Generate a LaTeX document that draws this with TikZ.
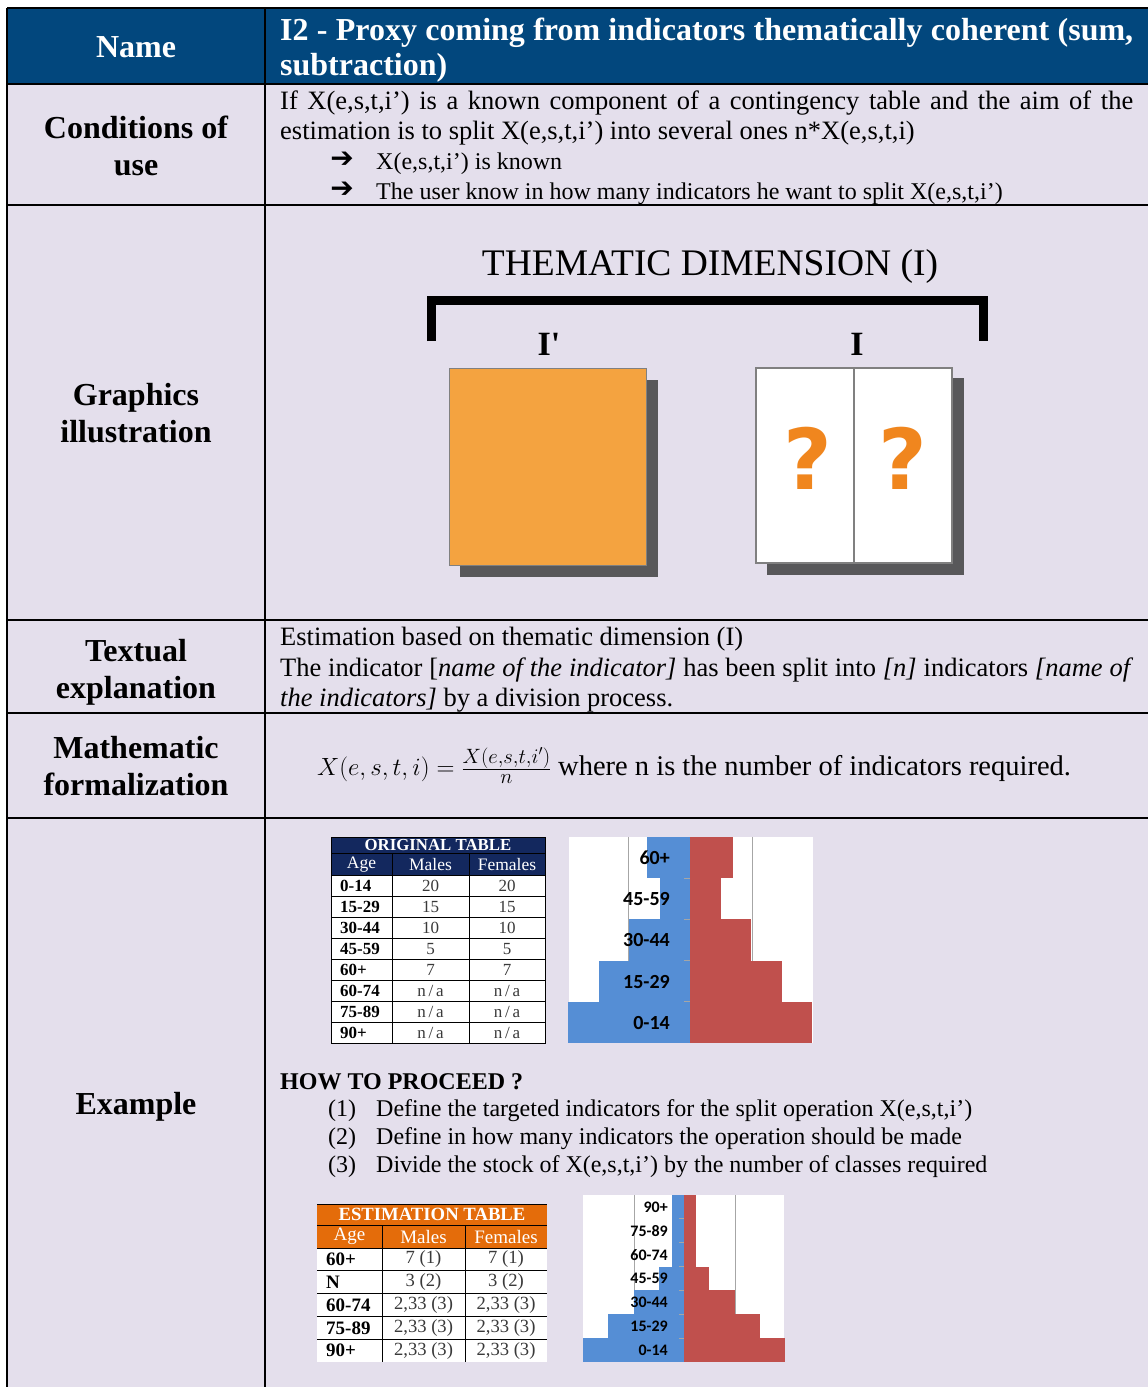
\documentclass[tikz,border=0pt]{standalone}
\usepackage{fontspec}
\setmainfont{Liberation Serif}
\newfontfamily\plainserif[Ligatures=TeXOff]{Liberation Serif}
\newfontfamily\dejavu{DejaVu Sans}
\newfontfamily\carlito{Carlito}
\definecolor{cellbg}{HTML}{E4DFEC}
\definecolor{hdrblue}{HTML}{02477D}
\definecolor{boxorange}{HTML}{F4A340}
\definecolor{shadowgrey}{HTML}{58585A}
\definecolor{qorange}{HTML}{F0861E}
\definecolor{navy}{HTML}{13285E}
\definecolor{tblorange}{HTML}{E46C0A}
\definecolor{barblue}{HTML}{558ED5}
\definecolor{barred}{HTML}{C0504D}
\definecolor{numgrey}{HTML}{3A3A3A}
\definecolor{gridgrey}{HTML}{A6A6A6}
\tikzset{
  xrule/.style={line width=2.5pt, black},
  xlbl/.style={font=\fontsize{32}{37}\selectfont\bfseries, align=center, inner sep=0pt},
  xhdr/.style={font=\fontsize{32}{35}\selectfont\bfseries, text=white, inner sep=0pt},
  xbody/.style={font=\fontsize{24}{30}\selectfont, inner sep=0pt, anchor=base west},
  xbig/.style={font=\fontsize{26.5}{30}\selectfont, inner sep=0pt, anchor=base west},
  xarrow/.style={font=\dejavu\bfseries\fontsize{28}{28}\selectfont, inner sep=0pt},
  ttitle/.style={font=\fontsize{16.8}{16.8}\selectfont\bfseries, text=white, inner sep=0pt},
  thead/.style={font=\fontsize{17.5}{17.5}\selectfont, text=white, inner sep=0pt},
  tage/.style={font=\fontsize{17}{17}\selectfont\bfseries, inner sep=0pt, anchor=west},
  tnum/.style={font=\fontsize{17}{17}\selectfont, text=numgrey, inner sep=0pt},
  etitle/.style={font=\fontsize{18.7}{18.7}\selectfont\bfseries, text=white, inner sep=0pt},
  ehead/.style={font=\fontsize{19}{19}\selectfont, text=white, inner sep=0pt},
  eage/.style={font=\fontsize{19}{19}\selectfont\bfseries, inner sep=0pt, anchor=west},
  enum/.style={font=\fontsize{18.6}{18.6}\selectfont, text=numgrey, inner sep=0pt},
  tline/.style={line width=0.8pt, black},
  gline/.style={line width=1pt, gridgrey},
  clab/.style={font=\carlito\bfseries\fontsize{20}{20}\selectfont, inner sep=0pt, anchor=east},
  clabs/.style={font=\carlito\bfseries\fontsize{16}{16}\selectfont, inner sep=0pt, anchor=east},
  qmark/.style={font=\dejavu\bfseries\fontsize{84}{84}\selectfont, text=qorange, inner sep=0pt},
}
\begin{document}
\begin{tikzpicture}[x=1pt,y=-1pt]
\useasboundingbox (0,0) rectangle (1148,1387);
\fill[white] (0,0) rectangle (1148,1387);
\fill[cellbg] (7,8) rectangle (1148,1387);
\fill[hdrblue] (7,8) rectangle (1148,84);
\foreach \yy in {8,84,205,620,713,818} \draw[xrule] (7,\yy) -- (1148,\yy);
\draw[xrule] (7,8) -- (7,1387);
\draw[xrule] (265,8) -- (265,1387);

% ---- header
\node[xlbl, text=white] (lName) at (136,47) {Name};
\node[xhdr, anchor=base west] (hT1) at (280,40) {\makebox[853pt][s]{I2 - Proxy coming from indicators thematically coherent (sum,}};
\node[xhdr, anchor=base west] (hT2) at (280,75) {subtraction)};

% ---- conditions
\node[xlbl] (lCond) at (136,146) {Conditions of\\use};
\node[xbig] (c1) at (280,109) {\makebox[853pt][s]{If X(e,s,t,i’) is a known component of a contingency table and the aim of the}};
\node[xbig] (c2) at (280,139) {estimation is to split X(e,s,t,i’) into several ones n*X(e,s,t,i)};
\node[xarrow] (a1) at (342,160) {➔};
\node[xbody] (c3) at (376,169) {X(e,s,t,i’) is known};
\node[xarrow] (a2) at (342,190) {➔};
\node[xbody] (c4) at (376,199) {The user know in how many indicators he want to split X(e,s,t,i’)};

% ---- graphics
\node[xlbl] (lGraph) at (136,413) {Graphics\\illustration};
\node[font=\fontsize{37.5}{37.5}\selectfont, inner sep=0pt] (gTitle) at (710,266) {THEMATIC DIMENSION (I)};
\draw[line width=9pt, line join=miter] (431.5,341) -- (431.5,300.5) -- (983.5,300.5) -- (983.5,341);
\node[font=\plainserif\fontsize{34}{34}\selectfont\bfseries, inner sep=0pt] (gIp) at (549,344) {I'};
\node[font=\fontsize{34}{34}\selectfont\bfseries, inner sep=0pt] (gI) at (857,344) {I};
\fill[shadowgrey] (460,380) rectangle (658,577);
\node[draw=gray, line width=1pt, fill=boxorange, minimum width=197pt, minimum height=197pt, inner sep=0pt] (boxA) at (547.5,466.5) {};
\fill[shadowgrey] (767,378) rectangle (964,575);
\node[draw=gray, line width=1.2pt, fill=white, minimum width=196pt, minimum height=195pt, inner sep=0pt] (boxB) at (854,465.5) {};
\draw[gray, line width=1.2pt] (boxB.north) -- (boxB.south);
\node[qmark] (q1) at (808,458) {?};
\node[qmark] (q2) at (903,458) {?};

% ---- textual
\node[xlbl] (lText) at (136,672) {Textual\\explanation};
\node[xbig] (t1) at (280,645) {Estimation based on thematic dimension (I)};
\node[xbig] (t2) at (280,676) {\makebox[853pt][s]{The indicator [\textit{name of the indicator]} has been split into \textit{[n]} indicators \textit{[name of}}};
\node[xbig] (t3) at (280,706) {\textit{the indicators]} by a division process.};

% ---- math
\node[xlbl] (lMath) at (136,766) {Mathematic\\formalization};
\node[xbody, font=\fontsize{28}{30}\selectfont] (mf) at (317,775) {$X(e,s,t,i)=\frac{X(e,s,t,i')}{n}$};
\node[xbody, font=\fontsize{28.5}{30}\selectfont] (mt) at (558,775) {where n is the number of indicators required.};

% ---- example
\node[xlbl] (lEx) at (136,1107) {Example};

% original table
\fill[navy] (331,837) rectangle (545,875);
\fill[white] (331,875) rectangle (545,1043);
\node[ttitle] (otTitle) at (438,845.5) {ORIGINAL TABLE};
\node[thead] (otAge) at (361.5,865) {Age};
\node[thead] (otM) at (430.5,865) {Males};
\node[thead] (otF) at (507,865) {Females};
\foreach \i/\a in {0/0-14,1/15-29,2/30-44,3/45-59,4/60+,5/60-74,6/75-89,7/90+}{
  \node[tage] (ota\i) at (340,{885.5+21*\i}) {\a};
}
\foreach \i/\m in {0/20,1/15,2/10,3/5,4/7}{
  \node[tnum] (otm\i) at (430.5,{886+21*\i}) {\m};
  \node[tnum] (otf\i) at (507,{886+21*\i}) {\m};
}
\foreach \i in {5,6,7}{
  \node[tnum] (otm\i) at (430.5,{886+21*\i}) {n\,/\,a};
  \node[tnum] (otf\i) at (507,{886+21*\i}) {n\,/\,a};
}
\foreach \k in {1,...,7} \draw[tline] (331,{875+21*\k}) -- (545,{875+21*\k});
\draw[tline] (331,853) -- (545,853);
\draw[tline] (331,875) -- (545,875);
\draw[tline] (392,853) -- (392,1043);
\draw[tline] (469,853) -- (469,1043);
\draw[tline] (331,837) rectangle (545,1043);

% chart 1
\fill[white] (569,837) rectangle (813,1043);
\draw[gline] (628,837) -- (628,1043);
\draw[gline] (752,837) -- (752,1043);
\foreach \k/\v/\lab in {0/7/60+,1/5/45-59,2/10/30-44,3/15/15-29,4/20/0-14}{
  \fill[barblue] ({690-6.1*\v},{837+41.2*\k}) rectangle (690,{837+41.2*(\k+1)});
  \fill[barred] (690,{837+41.2*\k}) rectangle ({690+6.1*\v},{837+41.2*(\k+1)});
  \node[clab] (ch1l\k) at (670,{837+41.2*\k+21}) {\lab};
}
\foreach \k in {1,2,3,4} \draw[gridgrey, line width=0.8pt] (684,{837+41.2*\k}) -- (690,{837+41.2*\k});

% how to proceed
\node[xbody, font=\fontsize{24}{30}\selectfont\bfseries] (how) at (280,1089) {HOW TO PROCEED ?};
\node[xbody] (n1) at (328,1116) {(1)};
\node[xbody] (s1) at (376,1116) {Define the targeted indicators for the split operation X(e,s,t,i’)};
\node[xbody] (n2) at (328,1144) {(2)};
\node[xbody] (s2) at (376,1144) {Define in how many indicators the operation should be made};
\node[xbody] (n3) at (328,1172) {(3)};
\node[xbody] (s3) at (376,1172) {Divide the stock of X(e,s,t,i’) by the number of classes required};

% estimation table
\fill[tblorange] (317,1204) rectangle (547,1248);
\fill[white] (317,1248) rectangle (547,1362);
\node[etitle] (etTitle) at (432,1214.5) {ESTIMATION TABLE};
\node[ehead] (etAge) at (349.5,1236.5) {Age};
\node[ehead] (etM) at (423.5,1236.5) {Males};
\node[ehead] (etF) at (506,1236.5) {Females};
\foreach \i/\a in {0/60+,1/N,2/60-74,3/75-89,4/90+}{
  \node[eage] (eta\i) at (326,{1259.4+22.8*\i}) {\a};
}
\foreach \i/\v in {0/{7 (1)},1/{3 (2)},2/{2,33 (3)},3/{2,33 (3)},4/{2,33 (3)}}{
  \node[enum] (etm\i) at (423.5,{1259.4+22.8*\i}) {\v};
  \node[enum] (etf\i) at (506,{1259.4+22.8*\i}) {\v};
}
\foreach \k in {1,...,4} \draw[tline] (317,{1248+22.8*\k}) -- (547,{1248+22.8*\k});
\draw[tline] (317,1225) -- (547,1225);
\draw[tline] (317,1248) -- (547,1248);
\draw[tline] (382,1225) -- (382,1362);
\draw[tline] (465,1225) -- (465,1362);
\draw[tline] (317,1204) -- (547,1204);

% chart 2
\fill[white] (583,1195) rectangle (784,1362);
\draw[gline] (634,1195) -- (634,1362);
\draw[gline] (735,1195) -- (735,1362);
\foreach \k/\v/\lab in {0/2.33/90+,1/2.33/75-89,2/2.33/60-74,3/5/45-59,4/10/30-44,5/15/15-29,6/20/0-14}{
  \fill[barblue] ({684-5.05*\v},{1195+23.857*\k}) rectangle (684,{1195+23.857*(\k+1)});
  \fill[barred] (684,{1195+23.857*\k}) rectangle ({684+5.05*\v},{1195+23.857*(\k+1)});
  \node[clabs] (ch2l\k) at (668,{1195+23.857*\k+12}) {\lab};
}
\foreach \k in {1,...,6} \draw[gridgrey, line width=0.8pt] (679,{1195+23.857*\k}) -- (684,{1195+23.857*\k});
\end{tikzpicture}
\end{document}
